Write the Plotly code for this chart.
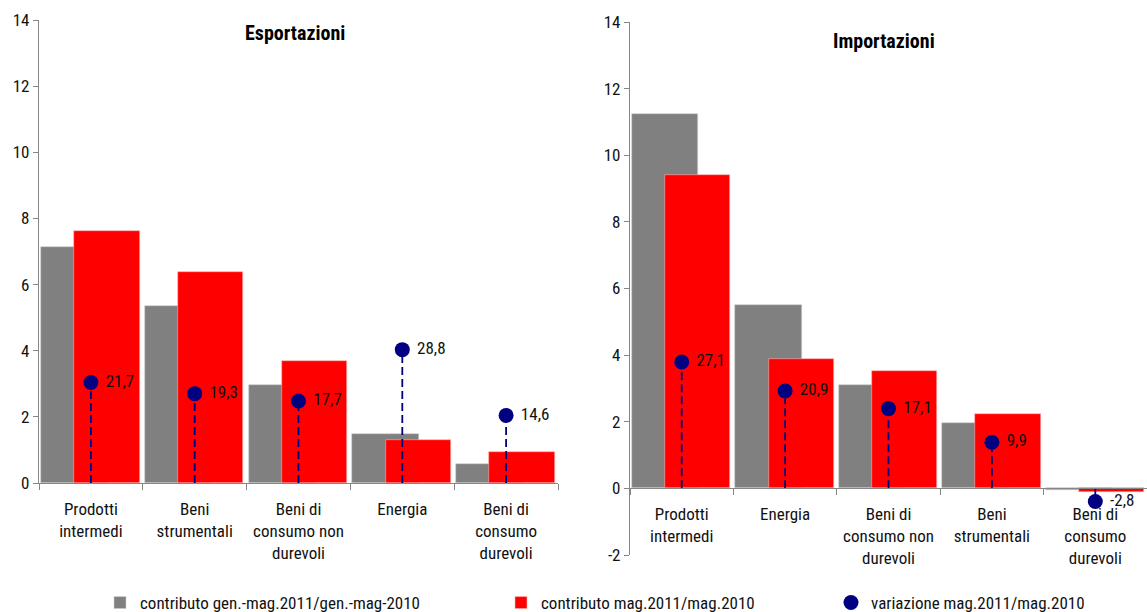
import plotly.graph_objects as go

# --- data -------------------------------------------------------------
exp_categories = ["Prodotti<br>intermedi", "Beni<br>strumentali",
                  "Beni di<br>consumo non<br>durevoli", "Energia",
                  "Beni di<br>consumo<br>durevoli"]
exp_contrib_genmag = [7.15, 5.36, 2.95, 1.48, 0.58]
exp_contrib_mag = [7.61, 6.38, 3.69, 1.29, 0.95]
exp_variazione = [21.7, 19.3, 17.7, 28.8, 14.6]

imp_categories = ["Prodotti<br>intermedi", "Energia",
                  "Beni di<br>consumo non<br>durevoli", "Beni<br>strumentali",
                  "Beni di<br>consumo<br>durevoli"]
imp_contrib_genmag = [11.24, 5.51, 3.09, 1.96, -0.04]
imp_contrib_mag = [9.40, 3.88, 3.53, 2.24, -0.12]
imp_variazione = [27.1, 20.9, 17.1, 9.9, -2.8]

exp_yticks = [0, 2, 4, 6, 8, 10, 12, 14]
imp_yticks = [-2, 0, 2, 4, 6, 8, 10, 12, 14]
imp_yticklabels = ["-2", "0", "2", "4", "6", "8", "10", "12", "14"]

name_genmag = "contributo gen.-mag.2011/gen.-mag-2010"
name_mag = "contributo mag.2011/mag.2010"
name_var = "variazione mag.2011/mag.2010"

# --- style ------------------------------------------------------------
W, H = 1147, 612
FONT = "Liberation Sans Narrow, Arial Narrow, Roboto Condensed, sans-serif"
GREY = "#808080"
RED = "#FF0000"
NAVY = "#000080"
AXIS = "#868686"
RATIO = 100 / 14  # secondary (variazione) units per primary unit


def px_x(p):
    return p / W


def px_y(p):
    return (H - p) / H


def fmt(v):
    return f"{v:.1f}".replace(".", ",")


def stems(cats, vals):
    xs, ys = [], []
    for c, v in zip(cats, vals):
        xs += [c, c, None]
        ys += [0, v, None]
    return xs, ys


fig = go.Figure()


def add_panel(cats, genmag, mag, var, xa, ya, ya2, legend_on):
    fig.add_trace(go.Bar(x=cats, y=genmag, name=name_genmag, marker_color=GREY,
                         marker_line=dict(color="#d0d0d0", width=0.6),
                         offset=-0.48, width=0.64, xaxis=xa, yaxis=ya,
                         showlegend=legend_on, legend="legend"))
    fig.add_trace(go.Bar(x=cats, y=mag, name=name_mag, marker_color=RED,
                         marker_line=dict(color="#ffb0b0", width=0.6),
                         offset=-0.16, width=0.63, xaxis=xa, yaxis=ya,
                         showlegend=legend_on, legend="legend2"))
    sx, sy = stems(cats, var)
    fig.add_trace(go.Scatter(x=sx, y=sy, mode="lines", xaxis=xa, yaxis=ya2,
                             line=dict(color=NAVY, width=1.8, dash="8px,4px"),
                             showlegend=False, hoverinfo="skip"))
    fig.add_trace(go.Scatter(x=cats, y=var, mode="markers", name=name_var,
                             marker=dict(color=NAVY, size=15), xaxis=xa, yaxis=ya2,
                             showlegend=legend_on, legend="legend3"))
    fig.add_trace(go.Scatter(x=cats, y=var, mode="markers+text",
                             text=[fmt(v) for v in var], textposition="middle right",
                             textfont=dict(family=FONT, size=17, color="#111"),
                             marker=dict(size=22, color="rgba(0,0,0,0)"),
                             xaxis=xa, yaxis=ya2, showlegend=False, hoverinfo="skip"))


add_panel(exp_categories, exp_contrib_genmag, exp_contrib_mag, exp_variazione,
          "x", "y", "y3", True)
add_panel(imp_categories, imp_contrib_genmag, imp_contrib_mag, imp_variazione,
          "x2", "y2", "y4", False)

# panel geometry
L_x = [px_x(39), px_x(558)]
L_y = [px_y(483), px_y(20)]
R_x = [px_x(630), 1.0]
R_y = [px_y(555), px_y(22)]
exp_range = [0, 14]
imp_range = [-2, 14]
imp_zero = R_y[0] + (0 - imp_range[0]) / (imp_range[1] - imp_range[0]) * (R_y[1] - R_y[0])

tickfont = dict(family=FONT, size=17, color="#111")
xcommon = dict(type="category", showline=True, linecolor=AXIS, linewidth=1.2,
               ticks="outside", tickson="boundaries", ticklen=6, tickcolor=AXIS,
               tickfont=tickfont, showgrid=False, zeroline=False,
               ticklabelstandoff=10, fixedrange=True)
ycommon = dict(showline=True, linecolor=AXIS, linewidth=1.2, ticks="outside",
               ticklen=5, tickcolor=AXIS, tickfont=tickfont, showgrid=False,
               zeroline=False, fixedrange=True)

fig.update_layout(
    width=W, height=H, autosize=False,
    margin=dict(l=0, r=0, t=0, b=0, autoexpand=False),
    paper_bgcolor="white", plot_bgcolor="white",
    barmode="overlay", bargap=0,
    font=dict(family=FONT, size=17, color="#111"),
    xaxis=dict(domain=L_x, anchor="y", **xcommon),
    yaxis=dict(domain=L_y, anchor="x", range=exp_range, tickvals=exp_yticks, **ycommon),
    xaxis2=dict(domain=R_x, anchor="free", position=imp_zero, **xcommon),
    yaxis2=dict(domain=R_y, anchor="x2", range=imp_range, tickvals=imp_yticks,
                ticktext=imp_yticklabels, **ycommon),
    yaxis3=dict(overlaying="y", anchor="x", range=[0, 14 * RATIO], visible=False),
    yaxis4=dict(overlaying="y2", anchor="x2", range=[-2 * RATIO, 14 * RATIO], visible=False),
    annotations=[
        dict(text="<b>Esportazioni</b>", x=px_x(295), y=px_y(33), xref="paper", yref="paper",
             xanchor="center", yanchor="middle", showarrow=False,
             font=dict(family=FONT, size=20, color="#000")),
        dict(text="<b>Importazioni</b>", x=px_x(884), y=px_y(41), xref="paper", yref="paper",
             xanchor="center", yanchor="middle", showarrow=False,
             font=dict(family=FONT, size=20, color="#000")),
    ],
)

legend_common = dict(orientation="h", yanchor="middle", xanchor="left",
                     y=px_y(603), font=dict(family=FONT, size=17, color="#111"),
                     bgcolor="rgba(0,0,0,0)", borderwidth=0)
fig.update_layout(
    legend=dict(x=px_x(100), **legend_common),
    legend2=dict(x=px_x(501), **legend_common),
    legend3=dict(x=px_x(831), **legend_common),
)

fig.write_html("out.html")
